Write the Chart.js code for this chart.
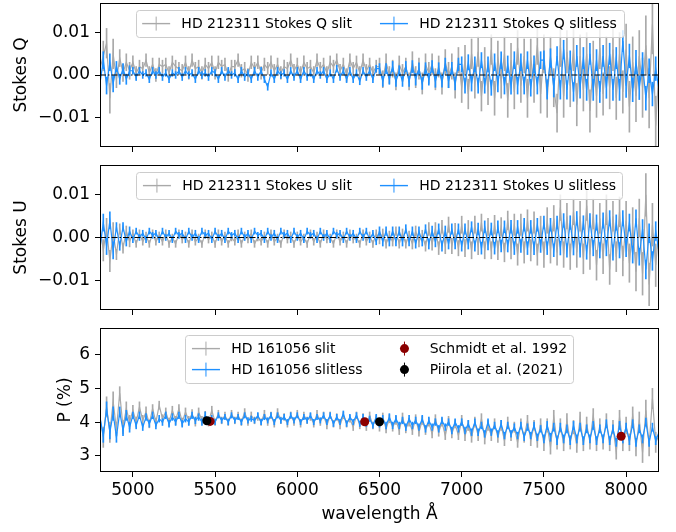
<!DOCTYPE html>
<html><head><meta charset="utf-8">
<script src="https://cdn.jsdelivr.net/npm/chart.js@4.4.0/dist/chart.umd.min.js"></script>
<style>
html,body{margin:0;padding:0;background:#fff;}
#wrap{position:relative;width:676px;height:532px;}
canvas{position:absolute;left:0;top:0;}
</style></head><body>
<div id="wrap">
<canvas id="cQ" width="676" height="532"></canvas>
<canvas id="cU" width="676" height="532"></canvas>
<canvas id="cP" width="676" height="532"></canvas>
</div>
<script>
// wavelength grid (Angstrom): 4800 .. 8200, step 20
const wlStart = 4800, wlStep = 20;
// error bars are given per 100 A block
const errBlock = 5;
const xTicks = [5000, 5500, 6000, 6500, 7000, 7500, 8000];
const stokesTicks = [-0.01, 0, 0.01];
const pTicks = [3, 4, 5, 6];

// Stokes Q, units of 1e-4
const qSlit = [15,45,75,-55,50,-10,40,5,30,10,
 30,5,20,15,35,5,25,0,25,20,
 25,5,30,20,15,10,30,5,35,15,
 20,5,25,15,30,5,30,20,25,0,
 20,20,35,10,15,0,30,15,30,5,
 25,15,30,10,25,5,20,15,35,10,
 25,5,30,15,20,5,35,15,25,5,
 30,20,35,10,25,0,35,15,30,5,
 35,10,25,5,20,20,-10,30,0,15,
 -15,25,5,20,-15,30,-5,15,-20,25,
 5,25,-10,20,-20,30,0,20,-25,35,
 -30,35,-45,50,-20,55,-50,30,-35,60,
 -55,40,-15,50,-60,35,-40,65,-25,45,
 -55,40,-20,70,-45,50,-55,45,-30,-90,
 70,-50,55,-25,60,-70,45,-35,50,-85,
 30,-50,65,-45,40,-30,60,-55,50,-40,
 60,-75,30,-50,45,-30,70,-55,120,-120,
 20];
const qSlitErr = [35,20,15,15,15,15,15,15,15,15,15,15,15,15,15,15,15,20,20,25,25,30,35,35,40,40,45,45,50,50,50,50,60,70,70];
const qSlitless = [-20,35,-25,30,-20,20,-10,15,-10,10,
 10,-5,10,0,5,-10,10,0,10,-5,
 5,-10,5,0,10,-5,10,0,5,-10,
 10,0,5,-5,10,5,-10,10,-5,10,
 0,5,-10,10,-5,5,-10,10,-5,10,
 -10,-28,5,-10,10,0,5,-10,10,-5,
 10,-10,10,-5,5,-10,10,0,10,-10,
 5,-10,15,-5,10,-10,10,-10,5,-15,
 10,-5,10,-10,15,15,-15,15,-10,20,
 -15,10,-15,20,-15,20,-10,15,-20,15,
 -10,20,-15,15,-15,25,-15,15,-20,25,
 25,-25,30,-20,25,-25,35,-25,25,-30,
 30,-20,35,-25,25,-25,35,-25,30,-25,
 35,-30,25,-25,35,35,-35,40,-30,45,
 -35,60,-35,35,-40,45,-30,40,-35,50,
 -35,35,-40,45,-30,50,-35,40,-35,80,
 -25,45,-35,30,-30,25,-55,10,-45,15,
 -35];
const qSlitlessErr = [20,12,8,8,8,8,8,8,8,8,8,8,8,8,8,8,8,12,12,14,14,15,18,18,20,20,20,22,22,25,25,25,28,28,28];
// Stokes U, units of 1e-4
const uSlit = [25,-30,20,-55,10,-40,20,-25,15,-10,
 10,-15,10,-10,5,-15,10,-10,5,-10,
 10,-15,0,-15,10,-5,5,-15,10,-10,
 0,-15,10,-5,5,-15,10,-10,5,-15,
 0,-10,10,-15,5,-5,10,-15,0,-10,
 5,-15,10,-10,0,-15,10,-5,5,-15,
 5,-10,0,-15,10,-10,5,-15,10,-5,
 0,-15,10,-10,5,-15,10,-5,0,-15,
 10,-10,5,-15,10,-5,10,-15,5,-10,
 15,-15,10,-15,5,-15,15,-10,5,-20,
 20,-15,20,-25,25,-20,30,-20,15,-25,
 30,-25,20,-30,30,-20,35,-30,25,-30,
 30,-30,25,-35,40,-25,30,-40,30,-35,
 40,-30,35,-40,25,-40,40,-30,45,-35,
 70,-40,50,-45,60,-35,50,-50,75,-40,
 55,-65,45,-50,65,-75,50,-45,60,-55,
 40,-60,25,-80,45,-85,100,-110,30,-65,
 20];
const uSlitErr = [25,12,8,8,8,8,8,8,8,8,8,8,8,8,8,8,8,10,10,12,15,18,20,20,22,25,25,30,30,35,35,35,45,50,50];
const uSlitless = [-25,35,-20,40,-30,25,-20,25,-10,15,
 -5,15,0,10,-5,15,5,10,-5,15,
 0,10,-5,15,5,10,-5,15,0,10,
 -5,15,5,10,-5,15,0,10,-5,15,
 5,10,-5,15,0,10,-5,15,5,10,
 -5,15,0,10,-5,15,5,10,-5,15,
 0,10,-5,15,5,10,-5,15,0,10,
 -5,15,5,10,-5,15,0,10,-5,15,
 0,15,-5,10,-10,15,-10,15,-10,15,
 -10,15,-10,20,-10,15,-15,15,-10,20,
 -15,15,-10,20,-20,15,-15,20,-15,20,
 -20,20,-15,25,-20,20,-25,25,-15,20,
 -25,25,-20,25,-20,25,-25,25,-20,30,
 -25,25,-25,30,-20,35,-25,30,-30,35,
 -25,40,-30,35,-25,45,-30,35,-35,40,
 -25,35,-30,40,-25,45,-35,35,-30,45,
 -25,35,-40,45,-45,20,-75,10,-55,15,
 -35];
const uSlitlessErr = [20,10,7,7,7,7,7,7,7,7,7,7,7,7,7,7,7,10,10,10,12,12,12,14,14,15,15,15,16,16,18,18,20,22,22];
// Polarization degree P (%)
const pSlit = [4.1,3.55,4.45,3.7,4.6,3.8,4.85,3.85,4.4,4.0,
 4.35,4.0,4.45,4.05,4.3,3.95,4.4,4.0,4.5,4.1,
 4.3,4.0,4.35,4.05,4.4,4.0,4.3,4.05,4.25,4.0,
 4.3,4.05,4.2,4.0,4.35,4.0,4.25,4.05,4.2,4.0,
 4.25,4.05,4.2,4.0,4.3,4.0,4.2,4.05,4.15,4.0,
 4.25,4.0,4.2,3.95,4.3,4.05,4.15,3.95,4.2,4.0,
 4.25,3.95,4.2,4.05,4.15,3.95,4.25,4.0,4.2,3.9,
 4.2,3.95,4.15,3.9,4.2,3.95,4.1,3.85,4.2,3.9,
 4.15,3.85,4.2,3.9,4.1,3.85,4.15,3.8,4.1,3.85,
 4.05,3.75,4.15,3.8,4.0,3.75,4.1,3.7,4.05,3.75,
 4.0,3.65,4.1,3.7,4.0,3.6,4.05,3.65,3.95,3.6,
 4.05,3.6,3.9,3.55,4.0,3.6,4.1,3.5,3.9,3.6,
 3.95,3.55,3.9,3.45,4.0,3.6,3.85,3.4,3.95,3.55,
 4.05,3.45,3.9,3.4,3.95,3.35,3.9,3.25,4.15,3.4,
 3.9,3.35,4.05,3.4,3.85,3.3,4.1,3.35,3.95,3.4,
 4.2,3.35,3.9,3.4,4.05,3.35,3.85,3.1,4.15,3.35,
 3.9,3.4,4.2,3.25,4.05,3.1,4.35,3.3,4.7,3.4,
 3.6];
const pSlitErr = [0.3,0.2,0.15,0.12,0.12,0.12,0.12,0.1,0.1,0.1,0.1,0.1,0.1,0.1,0.1,0.1,0.1,0.12,0.12,0.12,0.12,0.12,0.15,0.15,0.15,0.15,0.15,0.2,0.2,0.2,0.2,0.2,0.25,0.3,0.3];
const pSlitless = [4.15,3.6,4.4,3.7,4.25,3.55,4.3,3.75,4.2,3.85,
 4.2,3.9,4.2,3.85,4.15,3.95,4.2,3.9,4.1,4.0,
 4.2,3.95,4.15,4.0,4.2,3.95,4.1,4.0,4.2,4.05,
 4.15,4.0,4.2,4.05,4.1,4.0,4.2,4.05,4.15,4.0,
 4.2,4.05,4.15,4.0,4.2,4.05,4.1,4.05,4.2,4.0,
 4.15,4.05,4.2,4.0,4.2,4.05,4.15,4.0,4.2,4.05,
 4.2,4.0,4.15,4.05,4.2,4.0,4.15,4.05,4.2,4.0,
 4.2,3.95,4.15,4.0,4.25,3.95,4.15,4.0,4.2,3.95,
 4.15,3.95,4.1,3.9,4.15,3.95,4.1,3.9,4.15,3.9,
 4.1,3.9,4.05,3.85,4.1,3.9,4.05,3.85,4.1,3.8,
 4.05,3.85,4.0,3.8,4.05,3.85,4.0,3.75,4.0,3.8,
 4.0,3.75,3.95,3.7,4.0,3.7,3.9,3.65,4.0,3.7,
 3.9,3.65,3.95,3.6,3.9,3.65,3.85,3.6,3.9,3.55,
 3.85,3.6,3.9,3.55,3.8,3.5,3.9,3.55,3.85,3.45,
 3.85,3.5,3.8,3.45,3.9,3.5,3.85,3.45,3.8,3.5,
 3.9,3.45,3.8,3.5,3.95,3.45,3.8,3.4,3.9,3.5,
 3.85,3.45,3.95,3.4,3.8,3.5,4.0,3.4,3.85,3.45,
 3.7];
const pSlitlessErr = [0.2,0.15,0.1,0.1,0.1,0.1,0.1,0.08,0.08,0.08,0.08,0.08,0.08,0.08,0.08,0.08,0.08,0.1,0.1,0.1,0.1,0.1,0.1,0.1,0.1,0.1,0.1,0.12,0.12,0.12,0.12,0.12,0.12,0.12,0.12];
// literature points
const schmidtWl = [5470, 6410, 7970];
const schmidtP = [4.02, 4.01, 3.58];
const piirolaWl = [5450, 6500];
const piirolaP = [4.04, 4.01];

const GRAY = '#a9a9a9', BLUE = '#1e90ff', DARKRED = '#8b0000';
Chart.defaults.font.family = '"DejaVu Sans", sans-serif';
Chart.defaults.color = '#000';

function series(vals, k) { return vals.map((v, i) => ({x: wlStart + i * wlStep, y: v * k})); }
function errSeries(vals, errs, k) {
  return vals.map((v, i) => {
    const e = errs[Math.floor(i / errBlock)];
    return {x: wlStart + i * wlStep, y: [(v - e) * k, (v + e) * k]};
  });
}
function pts(xs, ys) { return xs.map((x, i) => ({x, y: ys[i]})); }

const insideLegend = {
  id: 'insideLegend',
  afterDatasetsDraw(chart, args, opts) {
    const items = chart.data.datasets.filter(d => d.legendKind);
    if (!items.length) return;
    const ctx = chart.ctx, ca = chart.chartArea;
    const fs = 14, bp = 5.6, hl = 28, htp = 11.2, cs = 28, ls = 7, rowH = 14;
    const ncol = opts.ncol || 1;
    const nrow = Math.ceil(items.length / ncol);
    ctx.save();
    ctx.font = fs + 'px "DejaVu Sans"';
    const colW = [];
    for (let c = 0; c < ncol; c++) {
      let w = 0;
      for (let r = 0; r < nrow; r++) {
        const it = items[c * nrow + r];
        if (it) w = Math.max(w, ctx.measureText(it.label).width);
      }
      colW.push(hl + htp + w);
    }
    const boxW = 2 * bp + colW.reduce((a, b) => a + b, 0) + (ncol - 1) * cs + 2;
    const boxH = 2 * bp + nrow * rowH + (nrow - 1) * ls + 2;
    const left = (ca.left + ca.right) / 2 - boxW / 2;
    const top = ca.top + 7;
    ctx.beginPath();
    ctx.roundRect(Math.round(left) + 0.5, Math.round(top) + 0.5, Math.round(boxW), Math.round(boxH), 3);
    ctx.fillStyle = 'rgba(255,255,255,0.8)';
    ctx.fill();
    ctx.strokeStyle = '#cccccc';
    ctx.lineWidth = 1;
    ctx.stroke();
    let cx = left + bp + 1;
    for (let c = 0; c < ncol; c++) {
      for (let r = 0; r < nrow; r++) {
        const it = items[c * nrow + r];
        if (!it) continue;
        const yc = top + bp + 1 + r * (rowH + ls) + rowH / 2;
        const col = it.legendColor;
        ctx.strokeStyle = col;
        ctx.fillStyle = col;
        ctx.lineWidth = 1;
        ctx.beginPath();
        ctx.moveTo(cx + hl / 2, yc - 7); ctx.lineTo(cx + hl / 2, yc + 7);
        ctx.stroke();
        if (it.legendKind === 'err') {
          ctx.lineWidth = 1.4;
          ctx.beginPath();
          ctx.moveTo(cx, yc); ctx.lineTo(cx + hl, yc);
          ctx.stroke();
        } else {
          ctx.beginPath();
          ctx.arc(cx + hl / 2, yc, 4.5, 0, Math.PI * 2);
          ctx.fill();
        }
        ctx.fillStyle = '#000';
        ctx.textBaseline = 'middle';
        ctx.textAlign = 'left';
        ctx.fillText(it.label, cx + hl + htp, yc + 0.5);
      }
      cx += colW[c] + cs;
    }
    ctx.restore();
  },
  afterDraw(chart) {
    const ctx = chart.ctx, ca = chart.chartArea;
    ctx.save();
    ctx.strokeStyle = '#000';
    ctx.lineWidth = 1;
    ctx.strokeRect(Math.round(ca.left) + 0.5, Math.round(ca.top) + 0.5,
      Math.round(ca.right - ca.left) - 1, Math.round(ca.bottom - ca.top) - 1);
    ctx.restore();
  }
};

const stokesFmt = v => v === 0 ? '0.00' : (v < 0 ? '\u2212' : '') + Math.abs(v).toFixed(2);

function yAxis(min, max, ticks, title, titlePad, fmt) {
  return {
    type: 'linear', min, max,
    afterBuildTicks: s => { s.ticks = ticks.map(v => ({value: v})); },
    afterFit: s => { s.width = 100; s.paddingTop = 0; s.paddingBottom = 0; s.paddingLeft = 0; s.paddingRight = 0; },
    ticks: {font: {size: 17}, color: '#000', padding: 5, callback: fmt},
    grid: {display: true, drawOnChartArea: false, drawTicks: true, tickLength: 5, color: '#000', tickWidth: 1},
    border: {display: false},
    title: {display: true, text: title, font: {size: 17}, color: '#000', padding: {top: titlePad, bottom: 0}}
  };
}
function xAxis(showLabels) {
  return {
    type: 'linear', min: 4800, max: 8200, offset: false,
    afterBuildTicks: s => { s.ticks = xTicks.map(v => ({value: v})); },
    afterFit: s => { s.height = showLabels ? 60 : 10; s.paddingTop = 0; s.paddingBottom = 0; s.paddingLeft = 0; s.paddingRight = 0; },
    ticks: {display: showLabels, font: {size: 17}, color: '#000', padding: 3, maxRotation: 0, autoSkip: false,
      callback: v => String(v)},
    grid: {display: true, offset: false, drawOnChartArea: false, drawTicks: true, tickLength: 5, color: '#000', tickWidth: 1},
    border: {display: false},
    title: {display: showLabels, text: 'wavelength Å', font: {size: 17}, color: '#000', padding: {top: 0, bottom: 7}}
  };
}
function lineDs(label, data, color, order) {
  return {type: 'line', label, data, borderColor: color, backgroundColor: color, borderWidth: 1.2,
    pointRadius: 0, tension: 0, order, legendKind: 'err', legendColor: color};
}
function errDs(data, color, order) {
  return {type: 'bar', data, backgroundColor: color, borderWidth: 0, barThickness: 1,
    grouped: false, order};
}
function zeroDs() {
  return {type: 'line', data: [{x: 4800, y: 0}, {x: 8200, y: 0}], borderColor: '#000', borderWidth: 1,
    borderDash: [6, 2, 1.5, 2], pointRadius: 0, order: 0};
}
function dotDs(label, data, color, order) {
  return {type: 'line', label, data, showLine: false, pointRadius: 4.5, pointHoverRadius: 4.5,
    pointBackgroundColor: color, pointBorderWidth: 0, borderColor: color, backgroundColor: color,
    order, legendKind: 'dot', legendColor: color};
}
function baseOpts(top, bottomPad, yax, xax, ncol) {
  return {
    responsive: false, animation: false, events: [],
    layout: {autoPadding: false, padding: {left: 0, right: 17, top, bottom: bottomPad}},
    plugins: {legend: {display: false}, tooltip: {enabled: false}, insideLegend: {ncol}},
    scales: {x: xax, y: yax}
  };
}

new Chart(document.getElementById('cQ'), {
  type: 'line',
  data: {datasets: [
    lineDs('HD 212311 Stokes Q slit', series(qSlit, 1e-4), GRAY, 4),
    lineDs('HD 212311 Stokes Q slitless', series(qSlitless, 1e-4), BLUE, 2),
    errDs(errSeries(qSlit, qSlitErr, 1e-4), GRAY, 5),
    errDs(errSeries(qSlitless, qSlitlessErr, 1e-4), BLUE, 3),
    zeroDs()
  ]},
  options: baseOpts(3, 375, yAxis(-0.017, 0.017, stokesTicks, 'Stokes Q', 11, stokesFmt), xAxis(false), 2),
  plugins: [insideLegend]
});
new Chart(document.getElementById('cU'), {
  type: 'line',
  data: {datasets: [
    lineDs('HD 212311 Stokes U slit', series(uSlit, 1e-4), GRAY, 4),
    lineDs('HD 212311 Stokes U slitless', series(uSlitless, 1e-4), BLUE, 2),
    errDs(errSeries(uSlit, uSlitErr, 1e-4), GRAY, 5),
    errDs(errSeries(uSlitless, uSlitlessErr, 1e-4), BLUE, 3),
    zeroDs()
  ]},
  options: baseOpts(165, 212, yAxis(-0.017, 0.017, stokesTicks, 'Stokes U', 11, stokesFmt), xAxis(false), 2),
  plugins: [insideLegend]
});
new Chart(document.getElementById('cP'), {
  type: 'line',
  data: {datasets: [
    lineDs('HD 161056 slit', series(pSlit, 1), GRAY, 4),
    lineDs('HD 161056 slitless', series(pSlitless, 1), BLUE, 2),
    dotDs('Schmidt et al. 1992', pts(schmidtWl, schmidtP), DARKRED, 1),
    dotDs('Piirola et al. (2021)', pts(piirolaWl, piirolaP), '#000', 0),
    errDs(errSeries(pSlit, pSlitErr, 1), GRAY, 5),
    errDs(errSeries(pSlitless, pSlitlessErr, 1), BLUE, 3)
  ]},
  options: baseOpts(328, 0, yAxis(2.52, 6.79, pTicks, 'P (%)', 55, v => String(v)), xAxis(true), 2),
  plugins: [insideLegend]
});
</script>
</body></html>
